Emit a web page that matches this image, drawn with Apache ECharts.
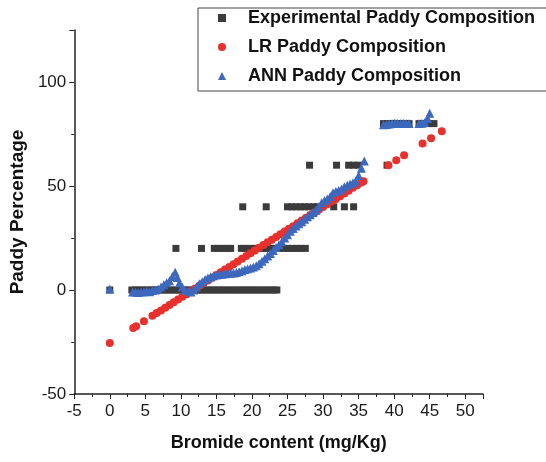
<!DOCTYPE html>
<html>
<head>
<meta charset="UTF-8">
<title>Paddy Percentage</title>
<script src="https://cdn.jsdelivr.net/npm/echarts@6/dist/echarts.min.js"></script>
<style>
    body { margin: 0; padding: 0; background: #fff; }
    #chart { width: 546px; height: 462px; }
</style>
</head>
<body>
<div id="chart"></div>
<script>
// experimental points (paddy % comes in steps of 20)
var expX = [0, 3.1, 3.6, 4.1, 4.6, 5.1, 5.6, 6.1, 6.6, 7.1, 7.6, 8.1, 8.6, 9.1, 9.6, 10.1, 10.6, 11.1, 11.6,
            12.1, 12.6, 13.1, 13.6, 14.1, 14.6, 15.1, 15.6, 16.1, 16.6, 17.1, 17.6, 18.1, 18.6, 19.1, 19.6,
            20.1, 20.6, 21.1, 21.6, 22.1, 22.6, 23.1, 23.5,
            9.3, 12.9, 14.7, 15.3, 15.9, 16.5, 17.0, 18.5, 19.1, 19.7, 20.3, 20.9, 21.5, 22.1, 22.7, 23.3,
            23.9, 24.5, 25.1, 25.7, 26.3, 26.9, 27.5,
            18.7, 22.0, 25.0, 25.6, 26.2, 26.8, 27.4, 28.0, 28.6, 29.2, 31.5, 33.0, 34.3,
            28.1, 31.9, 33.6, 34.3, 35.0, 39.0,
            38.5, 39.1, 39.7, 40.3, 40.9, 41.5, 42.1, 43.5, 44.2, 44.9, 45.6];
var expY = [0, 0, 0, 0, 0, 0, 0, 0, 0, 0, 0, 0, 0, 0, 0, 0, 0, 0, 0,
            0, 0, 0, 0, 0, 0, 0, 0, 0, 0, 0, 0, 0, 0, 0, 0,
            0, 0, 0, 0, 0, 0, 0, 0,
            20, 20, 20, 20, 20, 20, 20, 20, 20, 20, 20, 20, 20, 20, 20, 20,
            20, 20, 20, 20, 20, 20, 20,
            40, 40, 40, 40, 40, 40, 40, 40, 40, 40, 40, 40, 40,
            60, 60, 60, 60, 60, 60,
            80, 80, 80, 80, 80, 80, 80, 80, 80, 80, 80];

// linear regression predictions
var lrX = [0, 3.3, 3.7, 4.8, 6.0, 6.6, 7.2, 7.8, 8.4, 9.0, 9.6, 10.2, 10.8, 11.4, 12.0, 12.6, 13.2, 13.8,
           14.4, 15.0, 15.6, 16.2, 16.8, 17.4, 18.0, 18.6, 19.2, 19.8, 20.4, 21.0, 21.6, 22.2, 22.8, 23.4,
           24.0, 24.6, 25.2, 25.8, 26.4, 27.0, 27.6, 28.2, 28.8, 29.4, 30.0, 30.6, 31.2, 31.8, 32.4, 33.0,
           33.6, 34.2, 34.8, 35.4, 35.7, 39.2, 40.3, 41.4, 44.0, 45.2, 46.7];
var lrY = [-25.5, -18.3, -17.4, -15.0, -12.4, -11.1, -9.8, -8.5, -7.2, -5.9, -4.6, -3.3, -2.0, -0.6, 0.7, 2.0, 3.3, 4.6,
           5.9, 7.2, 8.5, 9.8, 11.1, 12.4, 13.7, 15.0, 16.4, 17.7, 19.0, 20.3, 21.6, 22.9, 24.2, 25.5,
           26.8, 28.1, 29.4, 30.7, 32.1, 33.4, 34.7, 36.0, 37.3, 38.6, 39.9, 41.2, 42.5, 43.8, 45.1, 46.4,
           47.7, 49.1, 50.4, 51.7, 52.3, 60.0, 62.4, 64.8, 70.4, 73.0, 76.3];

// neural network predictions
var annX = [0, 3.2, 3.6, 4.0, 4.4, 4.8, 5.2, 5.6, 6.0, 6.4, 6.8, 7.2, 7.6, 8.0, 8.4, 8.8, 9.2, 9.5, 9.8,
            10.2, 10.6, 11.0, 11.4, 11.8, 12.2, 12.6, 13.0, 13.4, 13.8, 14.2, 14.6, 15.0, 15.4, 15.8, 16.2,
            16.6, 17.0, 17.4, 17.8, 18.2, 18.6, 19.0, 19.4, 19.8, 20.2, 20.6, 21.0, 21.4, 21.8, 22.2, 22.6,
            23.0, 23.4, 23.8, 24.2, 24.6, 25.0, 25.4, 25.8, 26.2, 26.6, 27.0, 27.4, 27.8, 28.2, 28.6, 29.0,
            29.4, 29.8, 30.2, 30.6, 31.0, 31.4, 31.8, 32.2, 32.6, 33.0, 33.4, 33.8, 34.2, 34.6, 35.0, 35.4, 35.8,
            38.5, 38.9, 39.3, 39.7, 40.1, 40.5, 40.9, 41.3, 41.7, 42.1, 43.5, 43.9, 44.3, 44.7, 45.0];
var annY = [0.5, -1, -1, -1.2, -1, -0.8, -0.5, -0.8, -0.3, 0, 0.5, 1.5, 2.5, 3.5, 4.5, 6.5, 8.5, 6, 3.5,
            1.5, 0, -0.5, -1, 0, 1.5, 3, 4, 5, 5.8, 6.4, 6.8, 7.2, 7.4, 7.6, 7.8,
            8, 8, 8.2, 8.4, 8.8, 9.2, 9.8, 10.2, 10.6, 11, 11.6, 12.6, 13.8, 15, 16.4, 17.6,
            19, 20.4, 21.8, 23.2, 25, 26.6, 28.2, 29.6, 30.8, 31.8, 32.8, 34, 35.2, 36.2, 37.2, 38.4,
            40, 42, 43, 43.8, 45, 46.8, 47.4, 47.8, 48.6, 49.6, 50.4, 51, 51.6, 52.4, 55, 58.5, 62,
            79.5, 79.6, 79.8, 80, 80.3, 80.2, 80, 80.2, 80, 80, 80, 80.2, 80.5, 82.5, 85];

function pairs(xs, ys) {
    var out = [];
    for (var i = 0; i < xs.length; i++) out.push([xs[i], ys[i]]);
    return out;
}

var myChart = echarts.init(document.getElementById('chart'));
var option = {
    backgroundColor: '#fff',
    animation: false,
    grid: { left: 73, right: 63, top: 30, bottom: 68 },
    legend: {
        orient: 'vertical',
        left: 198,
        top: 8,
        padding: [1, 40, 6, 20],
        borderColor: '#444',
        borderWidth: 1,
        itemWidth: 8,
        itemHeight: 8,
        itemGap: 11,
        textStyle: { fontFamily: 'Liberation Sans', fontWeight: 'bold', fontSize: 18, color: '#111', lineHeight: 18, padding: [0, 0, 0, 17] },
        data: ['Experimental Paddy Composition', 'LR Paddy Composition', 'ANN Paddy Composition']
    },
    xAxis: {
        type: 'value',
        min: -5,
        max: 52.5,
        interval: 5,
        name: 'Bromide content (mg/Kg)',
        nameLocation: 'middle',
        nameGap: 40,
        nameTextStyle: { fontFamily: 'Liberation Sans', fontWeight: 'bold', fontSize: 18, color: '#111' },
        axisLine: { onZero: false, lineStyle: { color: '#222', width: 1.5 } },
        axisTick: { inside: false, length: 5, lineStyle: { color: '#222' } },
        minorTick: { show: true, splitNumber: 2, length: 3, lineStyle: { color: '#222' } },
        axisLabel: { showMaxLabel: false, fontFamily: 'Liberation Sans', fontSize: 17, color: '#1a1a1a', margin: 9 },
        splitLine: { show: false }
    },
    yAxis: {
        type: 'value',
        min: -50,
        max: 125,
        interval: 50,
        name: 'Paddy Percentage',
        nameLocation: 'middle',
        nameGap: 40,
        nameTextStyle: { fontFamily: 'Liberation Sans', fontWeight: 'bold', fontSize: 19, color: '#111' },
        axisLine: { show: true, onZero: false, lineStyle: { color: '#222', width: 1.5 } },
        axisTick: { show: true, inside: false, length: 5, lineStyle: { color: '#222' } },
        minorTick: { show: true, splitNumber: 2, length: 3, lineStyle: { color: '#222' } },
        axisLabel: { showMaxLabel: false, fontFamily: 'Liberation Sans', fontSize: 17, color: '#1a1a1a', margin: 8 },
        splitLine: { show: false }
    },
    series: [
        {
            name: 'Experimental Paddy Composition',
            type: 'scatter',
            symbol: 'rect',
            symbolSize: 7,
            itemStyle: { color: '#3b3b3b', opacity: 1 },
            data: pairs(expX, expY)
        },
        {
            name: 'LR Paddy Composition',
            type: 'scatter',
            symbol: 'circle',
            symbolSize: 8,
            itemStyle: { color: '#e8302d', opacity: 1 },
            data: pairs(lrX, lrY)
        },
        {
            name: 'ANN Paddy Composition',
            type: 'scatter',
            symbol: 'triangle',
            symbolSize: 9,
            itemStyle: { color: '#3c68bd', opacity: 1 },
            data: pairs(annX, annY)
        }
    ]
};
myChart.setOption(option);
</script>
</body>
</html>
